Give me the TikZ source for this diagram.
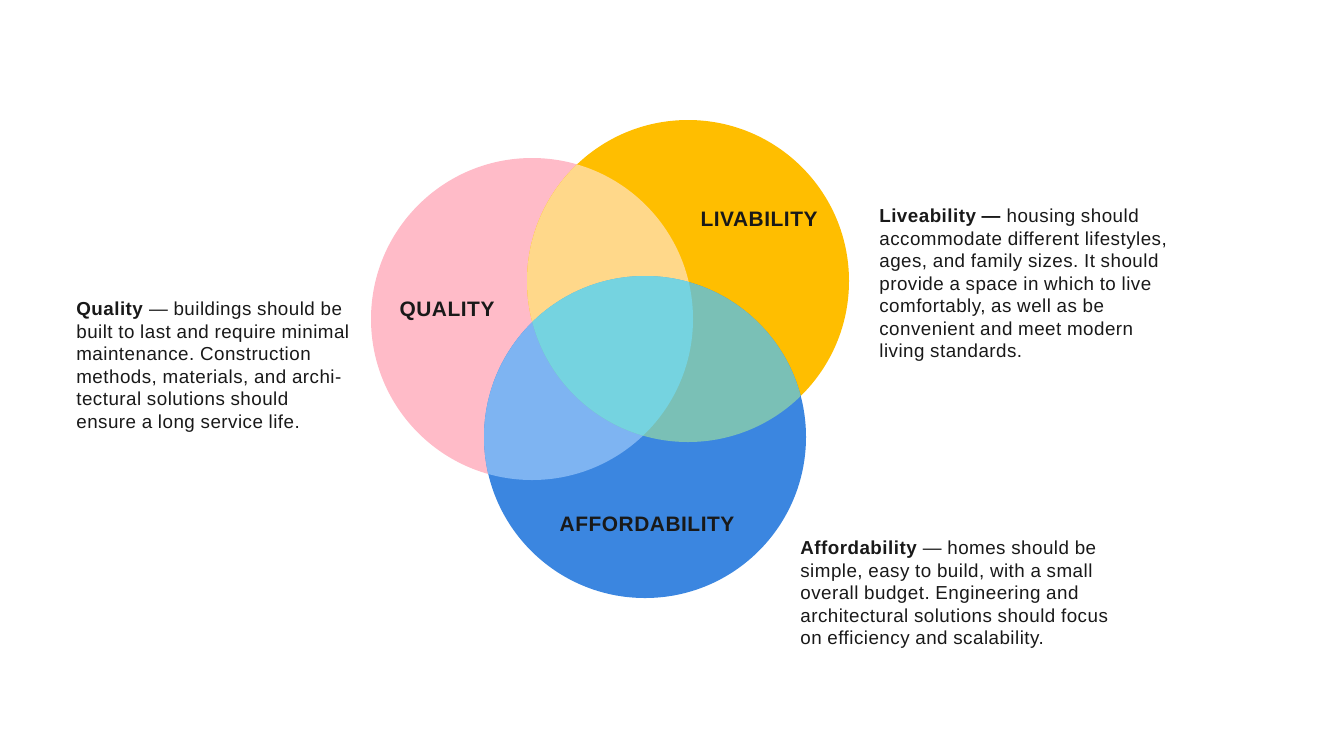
\documentclass[tikz,border=0pt]{standalone}
\usepackage{fontspec}
\setmainfont{Liberation Sans}[LetterSpace=2.5]
\usepackage{tikz}
\usetikzlibrary{positioning}

\definecolor{qpink}{RGB}{255,187,200}
\definecolor{lyellow}{RGB}{255,190,0}
\definecolor{ablue}{RGB}{59,134,224}
\definecolor{qlmix}{RGB}{255,216,138}
\definecolor{qamix}{RGB}{126,180,242}
\definecolor{lamix}{RGB}{122,192,182}
\definecolor{allmix}{RGB}{117,211,224}

\frenchspacing
\begin{document}
\begin{tikzpicture}[
  x=0.02cm, y=-0.02cm,
  tag/.style={font=\fontsize{11.9}{14}\selectfont\bfseries, text=black!90, inner sep=0pt},
  desc/.style={font=\fontsize{10.7}{12.8}\selectfont, text=black!90, align=left,
               anchor=north west, inner sep=0pt}
]
\useasboundingbox (0,0) rectangle (1332,752);
\fill[white] (0,0) rectangle (1332,752);

% Circle centres
\coordinate (qc) at (532,319);
\coordinate (lc) at (688,281);
\coordinate (ac) at (645,437);
\def\rad{161}

% Plain circles
\fill[qpink] (qc) circle (\rad);
\fill[lyellow] (lc) circle (\rad);
\fill[ablue] (ac) circle (\rad);

% Overlaps
\begin{scope}
  \clip (qc) circle (\rad);
  \fill[qlmix] (lc) circle (\rad);
  \fill[qamix] (ac) circle (\rad);
\end{scope}
\begin{scope}
  \clip (lc) circle (\rad);
  \fill[lamix] (ac) circle (\rad);
  \clip (qc) circle (\rad);
  \fill[allmix] (ac) circle (\rad);
\end{scope}

% Circle labels
\node[tag] (qual) at (447,311) {QUALITY};
\node[tag] (liv) at (759,219) {LIVABILITY};
\node[tag] (aff) at (647,524) {AFFORDABILITY};

% Descriptions
\node[desc] (qtext) at (76,302) {\textbf{Quality} --- buildings should be\\
  built to last and require minimal\\
  maintenance. Construction\\
  methods, materials, and archi-\\
  tectural solutions should\\
  ensure a long service life.};
\node[desc] (ltext) at (879,209) {\textbf{Liveability ---} housing should\\
  accommodate different lifestyles,\\
  ages, and family sizes. It should\\
  provide a space in which to live\\
  comfortably, as well as be\\
  convenient and meet modern\\
  living standards.};
\node[desc] (atext) at (800,541) {\textbf{Affordability} --- homes should be\\
  simple, easy to build, with a small\\
  overall budget. Engineering and\\
  architectural solutions should focus\\
  on efficiency and scalability.};

\end{tikzpicture}
\end{document}
